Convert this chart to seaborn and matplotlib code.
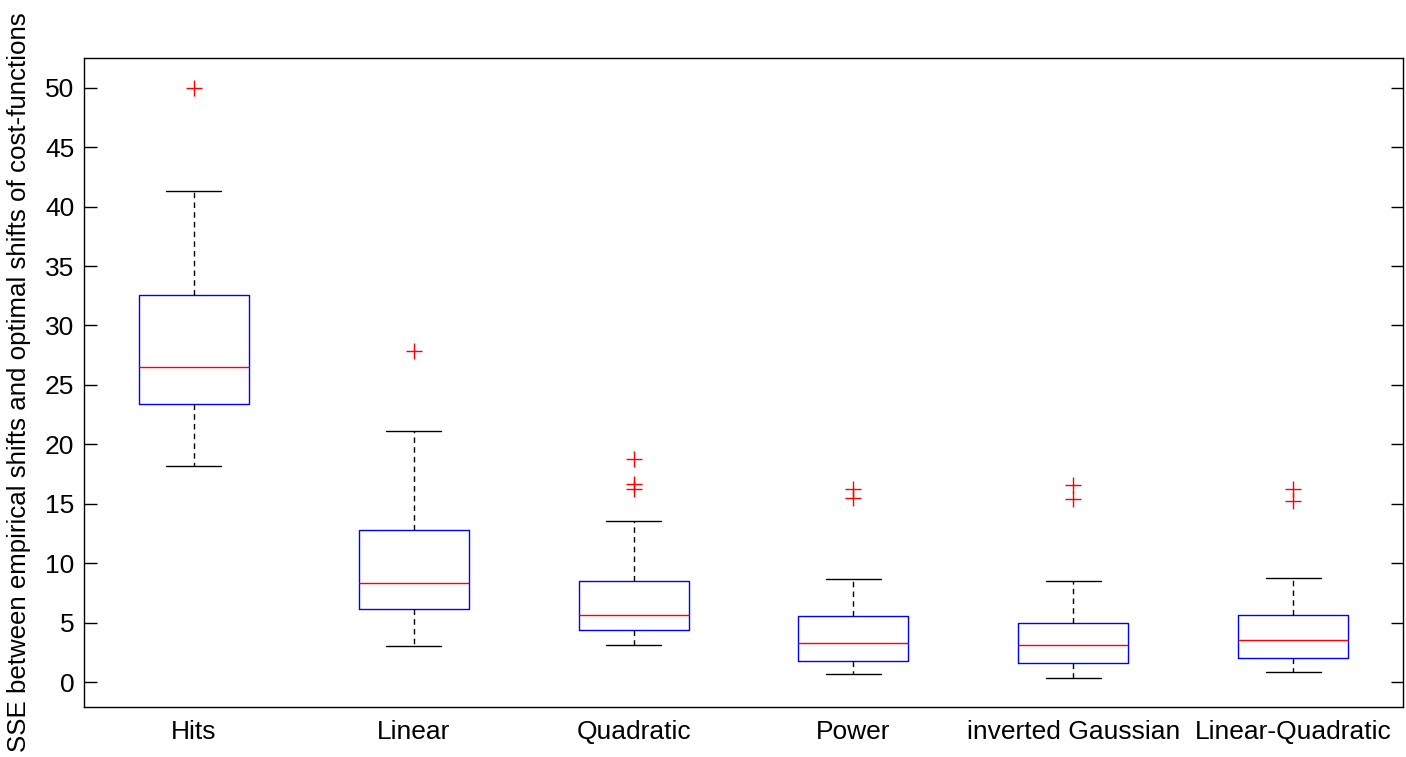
import matplotlib
matplotlib.use("Agg")
import matplotlib.pyplot as plt
import seaborn as sns

# values
methods = ["Hits", "Linear", "Quadratic", "Power", "inverted Gaussian", "Linear-Quadratic"]
whisker_low = [18.2, 3.05, 3.15, 0.65, 0.37, 0.84]
q1 = [23.4, 6.18, 4.41, 1.74, 1.57, 2.05]
medians = [26.5, 8.37, 5.61, 3.28, 3.09, 3.51]
q3 = [32.6, 12.83, 8.48, 5.56, 4.94, 5.67]
whisker_high = [41.3, 21.1, 13.55, 8.67, 8.53, 8.75]
outliers = [[50.0], [27.86], [18.8, 16.7, 16.2], [16.28, 15.49], [16.56, 15.44], [16.22, 15.24]]

sns.set_style("white")
plt.rcParams["font.family"] = ["Liberation Sans", "DejaVu Sans"]
plt.rcParams["text.color"] = "black"
plt.rcParams["axes.labelcolor"] = "black"
plt.rcParams["xtick.color"] = "black"
plt.rcParams["ytick.color"] = "black"

stats = []
for i, name in enumerate(methods):
    stats.append(dict(label=name, whislo=whisker_low[i], q1=q1[i], med=medians[i],
                      q3=q3[i], whishi=whisker_high[i], fliers=outliers[i]))

fig = plt.figure(figsize=(14.06, 7.57), dpi=100)
ax = fig.add_axes([0.0597, 0.066, 0.9382, 0.8574])

ax.bxp(stats, positions=range(1, 7), widths=0.5,
       boxprops=dict(color="blue", linewidth=1.0),
       medianprops=dict(color="red", linewidth=1.0),
       whiskerprops=dict(color="black", linestyle=(0, (4, 3)), linewidth=1.0),
       capprops=dict(color="black", linewidth=1.0),
       capwidths=0.25,
       flierprops=dict(marker="+", markeredgecolor="red", markersize=12, markeredgewidth=1.0))

ax.set_xlim(0.5, 6.5)
ax.set_ylim(-2.1, 52.5)
ax.set_yticks(range(0, 51, 5))
ax.set_xticks(range(1, 7))
ax.set_xticklabels(methods)
ax.tick_params(axis="y", direction="in", right=True, left=True, length=9, width=1,
               labelsize=19, pad=7, colors="black")
ax.tick_params(axis="x", length=0, labelsize=19, pad=9, colors="black")
ax.set_ylabel("SSE between empirical shifts and optimal shifts of cost-functions",
              fontsize=18.6, labelpad=10, color="black")
for s in ax.spines.values():
    s.set_visible(True)
    s.set_color("black")
    s.set_linewidth(1.0)

fig.savefig("out.png", dpi=100)
